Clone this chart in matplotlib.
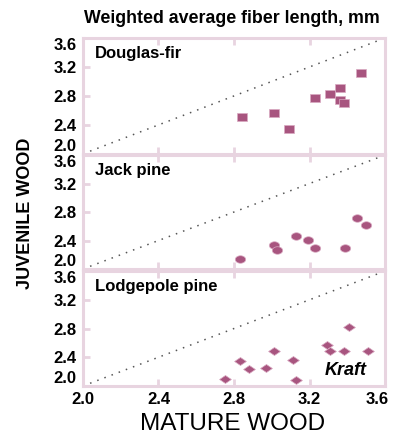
import numpy as np
import matplotlib
matplotlib.use("Agg")
import matplotlib.pyplot as plt
import matplotlib.transforms as mtransforms
from matplotlib.path import Path

plt.rcParams['font.family'] = ['Liberation Sans', 'DejaVu Sans']

# data (mature, juvenile), mm
df_mature = [2.84, 3.01, 3.09, 3.23, 3.31, 3.36, 3.36, 3.38, 3.47]
df_juv = [2.51, 2.57, 2.34, 2.77, 2.83, 2.91, 2.74, 2.70, 3.11]

jp_mature = [2.83, 3.01, 3.03, 3.13, 3.19, 3.23, 3.39, 3.45, 3.50]
jp_juv = [2.14, 2.33, 2.26, 2.47, 2.41, 2.30, 2.30, 2.71, 2.62]

lp_mature = [2.75, 2.83, 2.88, 2.97, 3.01, 3.11, 3.13, 3.29, 3.31, 3.38, 3.41, 3.51]
lp_juv = [2.10, 2.35, 2.24, 2.25, 2.49, 2.36, 2.09, 2.57, 2.49, 2.48, 2.82, 2.48]

species = ["Douglas-fir", "Jack pine", "Lodgepole pine"]
ticks = [2.0, 2.4, 2.8, 3.2, 3.6]
tick_labels = ["2.0", "2.4", "2.8", "3.2", "3.6"]

col = "#a8557f"
frame = "#e8d4e0"

# slightly squashed marker shapes (the original is stretched sideways)
sq = Path([(-0.5, -0.36), (0.5, -0.36), (0.5, 0.36), (-0.5, 0.36), (-0.5, -0.36)],
          [Path.MOVETO, Path.LINETO, Path.LINETO, Path.LINETO, Path.CLOSEPOLY])
t = np.linspace(0, 2 * np.pi, 40)
ell = Path(np.column_stack([0.5 * np.cos(t), 0.36 * np.sin(t)]))
dia = Path([(0, -0.34), (0.5, 0), (0, 0.34), (-0.5, 0), (0, -0.34)],
           [Path.MOVETO, Path.LINETO, Path.LINETO, Path.LINETO, Path.CLOSEPOLY])

fig = plt.figure(figsize=(3.93, 4.36), dpi=100)
L, W = 0.211, 0.769
boxes = [(0.647, 0.913), (0.383, 0.6445), (0.1147, 0.3784)]
sets = [(df_mature, df_juv, sq, 7.5), (jp_mature, jp_juv, ell, 7.5), (lp_mature, lp_juv, dia, 8.5)]

axes = []
for i, ((b, tp), (xm, yj, mk, ms)) in enumerate(zip(boxes, sets)):
    ax = fig.add_axes([L, b, W, tp - b])
    ax.set_xlim(2.0, 3.6)
    ax.set_ylim(2.0, 3.6)
    ax.plot([2.0, 3.6], [2.0, 3.6], linestyle=(0, (1, 4)), color="#555555", lw=1.1)
    ax.plot(xm, yj, linestyle="none", marker=mk, markersize=ms,
            markerfacecolor=col, markeredgecolor="#d9aac2", markeredgewidth=0.5)
    for s in ax.spines.values():
        s.set_color(frame)
        s.set_linewidth(2.2)
    ax.set_xticks(ticks)
    ax.set_yticks(ticks)
    ax.tick_params(direction="in", length=5, width=2, color=frame, top=True, pad=4.5)
    ax.set_yticklabels(tick_labels, fontsize=12, fontweight="bold")
    ylabs = ax.get_yticklabels()
    ylabs[-1].set_va("top")
    ylabs[0].set_va("bottom")
    if i < 2:
        ax.tick_params(labelbottom=False)
    else:
        ax.tick_params(axis="x", pad=4)
        ax.set_xticklabels(tick_labels, fontsize=12, fontweight="bold")
        xl = ax.get_xticklabels()[-1]
        xl.set_ha("right")
        xl.set_transform(xl.get_transform() +
                         mtransforms.ScaledTranslation(0.04, 0, fig.dpi_scale_trans))
    ax.text(0.04, 0.93, species[i], transform=ax.transAxes, fontsize=12,
            fontweight="bold", va="top", ha="left")
    axes.append(ax)

axes[2].text(3.39, 2.1, "Kraft", fontsize=13, fontweight="bold", style="italic",
             ha="center", va="bottom")

fig.text(0.59, 0.958, "Weighted average fiber length, mm", fontsize=12.8,
         fontweight="bold", ha="center", va="center")
fig.text(0.593, 0.028, "MATURE WOOD", fontsize=17.5, ha="center", va="center")
fig.text(0.064, 0.511, "JUVENILE WOOD", fontsize=13, fontweight="bold",
         ha="center", va="center", rotation=90)

fig.savefig("out.png", dpi=100)
